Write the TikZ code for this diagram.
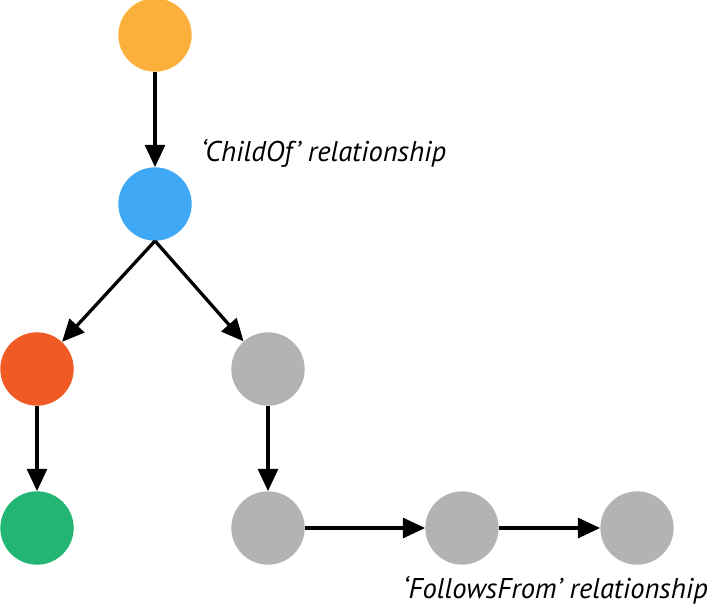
\documentclass[tikz,border=0pt]{standalone}
\usepackage{fontspec}
\setmainfont{PT Sans}
\usetikzlibrary{arrows.meta}
\definecolor{spanorange}{HTML}{FBB03B}
\definecolor{spanblue}{HTML}{3FA9F5}
\definecolor{spanred}{HTML}{F15A24}
\definecolor{spangray}{HTML}{B3B3B3}
\definecolor{spangreen}{HTML}{22B573}
\tikzset{
	span/.style={circle, minimum size=2.2cm, inner sep=0pt},
	rel/.style={-{Triangle[length=19pt, width=17pt]}, line width=2.8pt},
	reltext/.style={font=\fontsize{24.4}{26}\selectfont\itshape, inner sep=0pt, anchor=west}
}
\begin{document}
\begin{tikzpicture}[x=0.03cm, y=-0.03cm]
			\useasboundingbox (0,0) rectangle (710,610);
			\node[span, fill=spanorange] (root) at (155,35) {};
			\node[span, fill=spanblue] (child) at (155,204) {};
			\node[span, fill=spanred] (left) at (37,369) {};
			\node[span, fill=spangreen] (leftleaf) at (37,528) {};
			\node[span, fill=spangray] (right) at (268,369) {};
			\node[span, fill=spangray] (chain1) at (268,528) {};
			\node[span, fill=spangray] (chain2) at (462,528) {};
			\node[span, fill=spangray] (chain3) at (637,528) {};
			\draw[rel] (root) -- (child);
			\draw[rel] (child.south) -- (left);
			\draw[rel] (child.south) -- (right);
			\draw[rel] (left) -- (leftleaf);
			\draw[rel] (right) -- (chain1);
			\draw[rel] (chain1) -- (chain2);
			\draw[rel] (chain2) -- (chain3);
			\node[reltext] (childof) at (201,153) {`ChildOf' relationship};
			\node[reltext] (follows) at (403,590) {`FollowsFrom' relationship};
		\end{tikzpicture}
\end{document}
